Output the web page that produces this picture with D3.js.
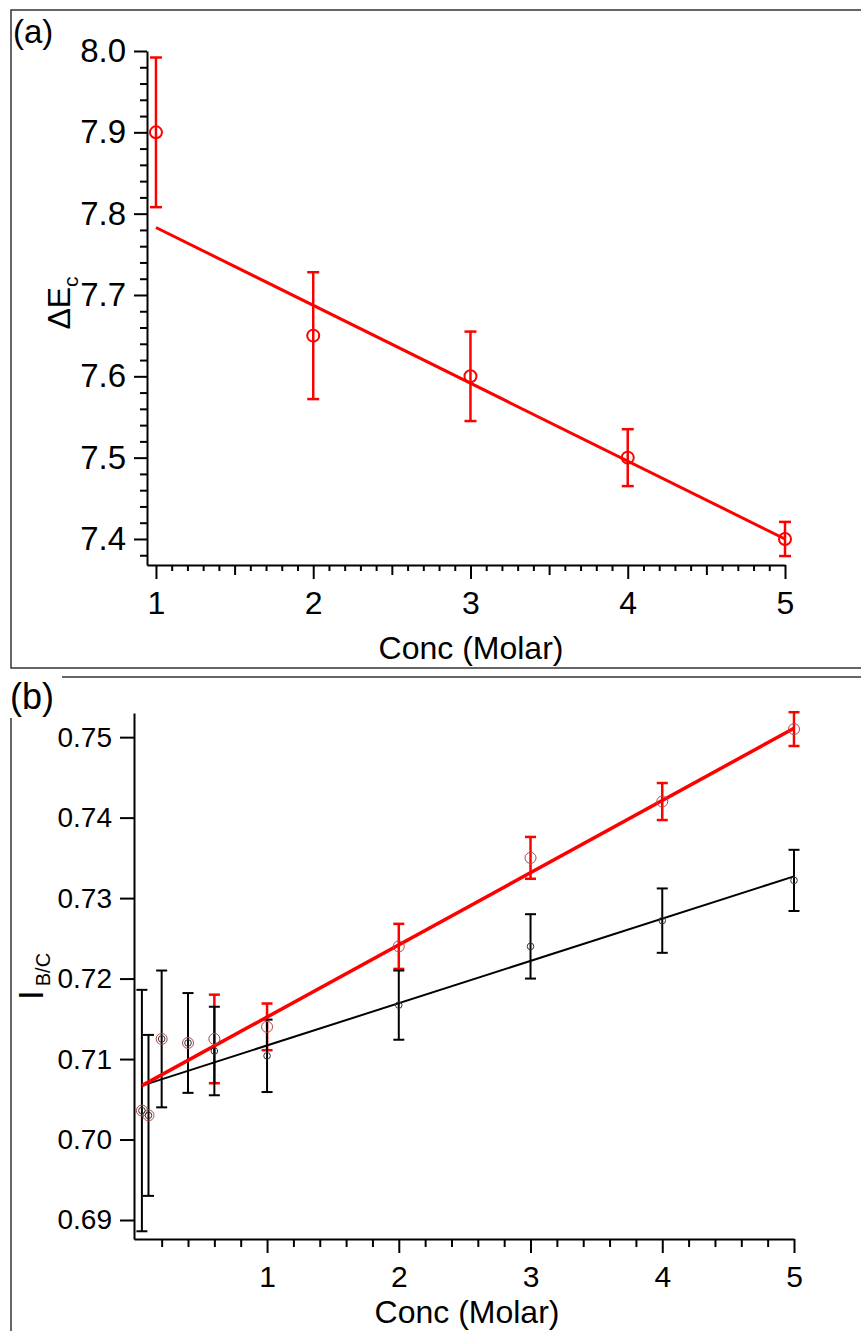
<!DOCTYPE html>
<html>
<head>
<meta charset="utf-8">
<script src="https://cdn.jsdelivr.net/npm/d3@7"></script>
<style>
  body { margin: 0; background: #fff; }
  text { font-family: "Liberation Sans", Arial, sans-serif; fill: #000; }
</style>
</head>
<body>
<div id="chart"></div>
<script>
// panel (a) data
const concA = [1, 2, 3, 4, 5];
const deltaEc = [7.90, 7.65, 7.60, 7.50, 7.40];
const deltaEcErr = [0.092, 0.078, 0.055, 0.035, 0.021];
const fitAx = [1, 5];
const fitAy = [7.783, 7.400];
const ticksAx = [1, 2, 3, 4, 5];
const ticksAy = [7.4, 7.5, 7.6, 7.7, 7.8, 7.9, 8.0];

// panel (b) data
const concB = [0.05, 0.1, 0.2, 0.4, 0.6, 1, 2, 3, 4, 5];
const ibcBlack = [0.7036, 0.7030, 0.7125, 0.7120, 0.7110, 0.7104, 0.7167, 0.7240, 0.7272, 0.7322];
const ibcBlackErr = [0.0150, 0.0100, 0.0085, 0.0062, 0.0055, 0.0045, 0.0043, 0.0040, 0.0040, 0.0038];
const ibcRed = [0.7036, 0.7030, 0.7125, 0.7120, 0.7125, 0.7140, 0.7240, 0.7350, 0.7420, 0.7510];
const ibcRedErr = [null, null, null, null, 0.0055, 0.0029, 0.0028, 0.0026, 0.0023, 0.0021];
const fitBx = [0.05, 5];
const fitBblack = [0.7067, 0.7327];
const fitBred = [0.7067, 0.7511];
const ticksBx = [1, 2, 3, 4, 5];
const ticksBy = [0.69, 0.70, 0.71, 0.72, 0.73, 0.74, 0.75];

const svg = d3.select("#chart").append("svg")
  .attr("width", 861)
  .attr("height", 1331);

// frames
svg.append("rect")
  .attr("x", 11).attr("y", 10).attr("width", 880).attr("height", 658)
  .attr("fill", "none").attr("stroke", "#333").attr("stroke-width", 1.5);
svg.append("line").attr("x1", 62).attr("x2", 861).attr("y1", 677).attr("y2", 677)
  .attr("stroke", "#333").attr("stroke-width", 1.5);
svg.append("line").attr("x1", 11).attr("x2", 11).attr("y1", 718).attr("y2", 1331)
  .attr("stroke", "#333").attr("stroke-width", 1.5);

svg.append("text").attr("x", 13).attr("y", 43).style("font-size", "33px").text("(a)");
svg.append("text").attr("x", 10).attr("y", 709).style("font-size", "36px").text("(b)");

function styleAxis(g, fs) {
  g.select(".domain").attr("stroke", "#000").attr("stroke-width", 2);
  g.selectAll(".tick line").attr("stroke", "#000").attr("stroke-width", 2);
  g.selectAll(".tick text").style("font-size", fs + "px")
    .attr("font-family", "Liberation Sans, Arial, sans-serif");
}

function minorAxis(g, axis) {
  g.call(axis);
  g.select(".domain").remove();
  g.selectAll(".tick line").attr("stroke", "#000").attr("stroke-width", 2);
  g.selectAll(".tick text").remove();
}

function errorBars(g, xs, ys, errs, x, y, color, sw, cap) {
  const pts = xs.map((d, i) => ({ x: d, y: ys[i], e: errs[i] })).filter(d => d.e != null);
  const bars = g.selectAll(null).data(pts).join("g");
  bars.append("line")
    .attr("x1", d => x(d.x)).attr("x2", d => x(d.x))
    .attr("y1", d => y(d.y + d.e)).attr("y2", d => y(d.y - d.e))
    .attr("stroke", color).attr("stroke-width", sw);
  bars.append("line")
    .attr("x1", d => x(d.x) - cap).attr("x2", d => x(d.x) + cap)
    .attr("y1", d => y(d.y + d.e)).attr("y2", d => y(d.y + d.e))
    .attr("stroke", color).attr("stroke-width", sw);
  bars.append("line")
    .attr("x1", d => x(d.x) - cap).attr("x2", d => x(d.x) + cap)
    .attr("y1", d => y(d.y - d.e)).attr("y2", d => y(d.y - d.e))
    .attr("stroke", color).attr("stroke-width", sw);
}

// ---------- panel (a) ----------
const xA = d3.scaleLinear().domain([0.943, 5]).range([147, 785]);
const yA = d3.scaleLinear().domain([7.368, 8.0]).range([565, 51]);
const gA = svg.append("g");

const minorAx = d3.range(11, 50).map(d => d / 10).filter(d => d % 1 !== 0);
minorAxis(gA.append("g").attr("transform", "translate(0,565)"),
  d3.axisBottom(xA).tickValues(minorAx.filter(d => d % 0.5 !== 0)).tickSize(6).tickSizeOuter(0));
minorAxis(gA.append("g").attr("transform", "translate(0,565)"),
  d3.axisBottom(xA).tickValues([1.5, 2.5, 3.5, 4.5]).tickSize(10).tickSizeOuter(0));
const axA = gA.append("g").attr("transform", "translate(0,565)")
  .call(d3.axisBottom(xA).tickValues(ticksAx).tickSize(14).tickSizeOuter(0)
    .tickPadding(12).tickFormat(d3.format("d")));
styleAxis(axA, 32);

const minorAyVals = d3.range(738, 800, 2).filter(d => d % 10 !== 0).map(d => d / 100);
minorAxis(gA.append("g").attr("transform", "translate(147,0)"),
  d3.axisLeft(yA).tickValues(minorAyVals).tickSize(7).tickSizeOuter(0));
const ayA = gA.append("g").attr("transform", "translate(147,0)")
  .call(d3.axisLeft(yA).tickValues(ticksAy).tickSize(13).tickSizeOuter(0)
    .tickPadding(8).tickFormat(d3.format(".1f")));
styleAxis(ayA, 33);

gA.append("text").attr("x", 471).attr("y", 659).attr("text-anchor", "middle")
  .style("font-size", "32px").text("Conc (Molar)");
const labA = gA.append("text").attr("transform", "translate(70,303) rotate(-90)")
  .attr("text-anchor", "middle");
labA.append("tspan").style("font-size", "32px").text("\u0394E");
labA.append("tspan").style("font-size", "21px").attr("dy", 8).text("c");

errorBars(gA, concA, deltaEc, deltaEcErr, xA, yA, "#ff0000", 2.5, 6);
gA.append("path")
  .datum(fitAx.map((d, i) => [d, fitAy[i]]))
  .attr("d", d3.line().x(d => xA(d[0])).y(d => yA(d[1])))
  .attr("fill", "none").attr("stroke", "#ff0000").attr("stroke-width", 3);
gA.selectAll(null).data(concA).join("circle")
  .attr("cx", d => xA(d)).attr("cy", (d, i) => yA(deltaEc[i])).attr("r", 6)
  .attr("fill", "none").attr("stroke", "#ff0000").attr("stroke-width", 2);

// ---------- panel (b) ----------
const xB = d3.scaleLinear().domain([-0.01, 5]).range([134, 794]);
const yB = d3.scaleLinear().domain([0.68764, 0.753]).range([1239, 713]);
const gB = svg.append("g");

const minorBx = d3.range(1, 25).map(d => d / 5).filter(d => Math.abs(d - Math.round(d)) > 1e-6);
minorAxis(gB.append("g").attr("transform", "translate(0,1239)"),
  d3.axisBottom(xB).tickValues(minorBx).tickSize(8).tickSizeOuter(0));
const axB = gB.append("g").attr("transform", "translate(0,1239)")
  .call(d3.axisBottom(xB).tickValues(ticksBx).tickSize(14).tickSizeOuter(0)
    .tickPadding(13).tickFormat(d3.format("d")));
styleAxis(axB, 30);

const ayB = gB.append("g").attr("transform", "translate(134,0)")
  .call(d3.axisLeft(yB).tickValues(ticksBy).tickSize(14).tickSizeOuter(0)
    .tickPadding(8).tickFormat(d3.format(".2f")));
styleAxis(ayB, 28);

gB.append("text").attr("x", 467).attr("y", 1323).attr("text-anchor", "middle")
  .style("font-size", "32px").text("Conc (Molar)");
const labB = gB.append("text").attr("transform", "translate(43,1000) rotate(-90)");
labB.append("tspan").style("font-size", "35px").text("I");
labB.append("tspan").style("font-size", "20px").attr("dy", 7).attr("dx", 4).text("B/C");

errorBars(gB, concB, ibcRed, ibcRedErr, xB, yB, "#ff0000", 2.5, 5.5);
errorBars(gB, concB, ibcBlack, ibcBlackErr, xB, yB, "#000", 2, 5.5);

const lineB = d3.line().x(d => xB(d[0])).y(d => yB(d[1]));
gB.append("path").datum(fitBx.map((d, i) => [d, fitBblack[i]]))
  .attr("d", lineB).attr("fill", "none").attr("stroke", "#000").attr("stroke-width", 2);
gB.append("path").datum(fitBx.map((d, i) => [d, fitBred[i]]))
  .attr("d", lineB).attr("fill", "none").attr("stroke", "#ff0000").attr("stroke-width", 3.5);

gB.selectAll(null).data(concB).join("circle")
  .attr("cx", d => xB(d)).attr("cy", (d, i) => yB(ibcRed[i])).attr("r", 5.5)
  .attr("fill", "none").attr("stroke", "#b04848").attr("stroke-width", 1);
gB.selectAll(null).data(concB).join("circle")
  .attr("cx", d => xB(d)).attr("cy", (d, i) => yB(ibcBlack[i])).attr("r", 3.3)
  .attr("fill", "none").attr("stroke", "#333").attr("stroke-width", 1);
</script>
</body>
</html>
